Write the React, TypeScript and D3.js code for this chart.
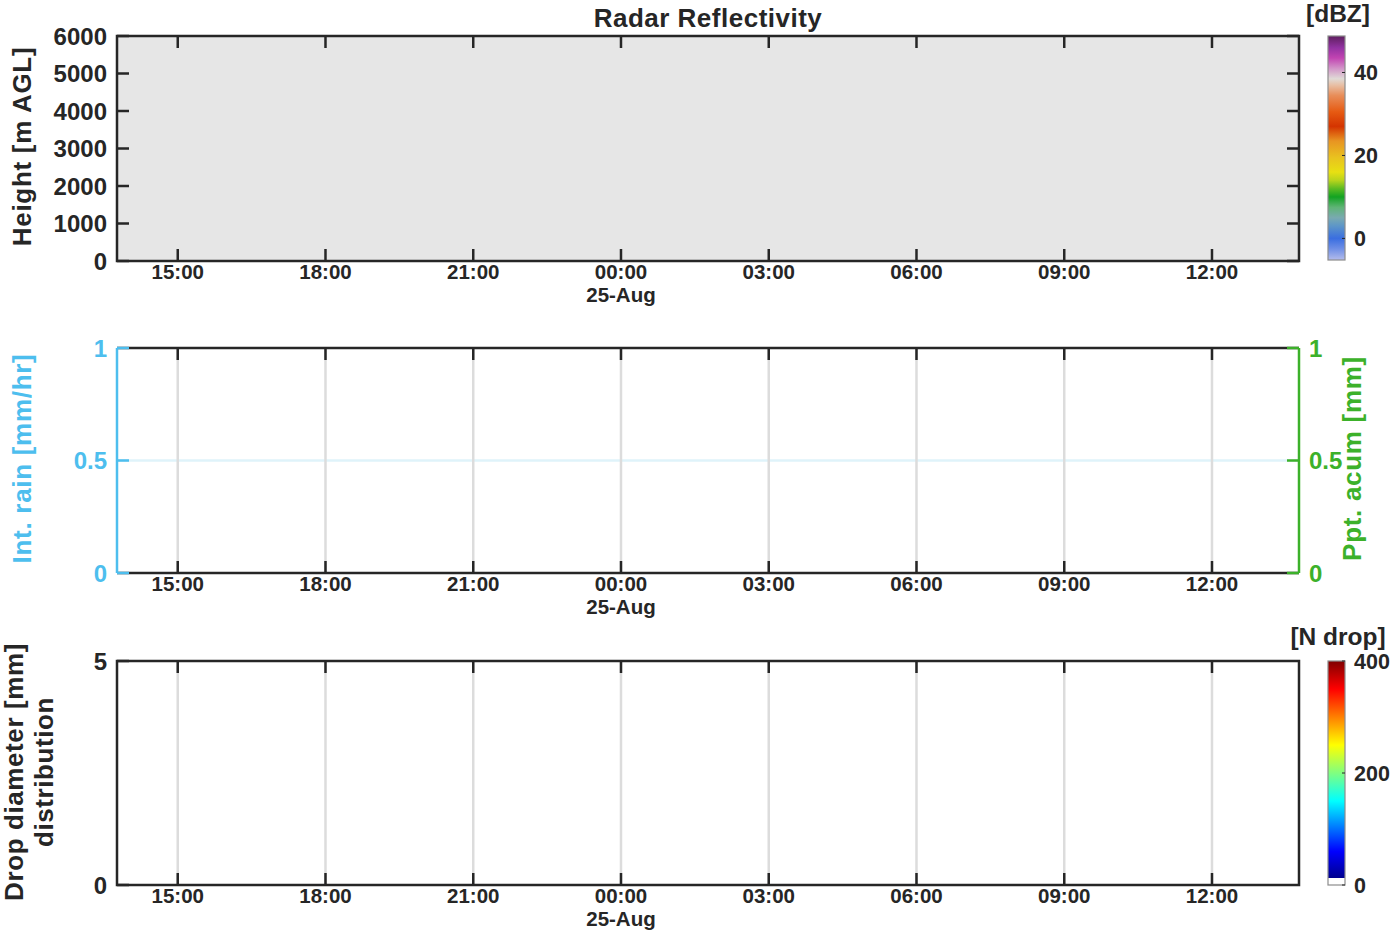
import React, { useMemo } from "react";
import * as d3 from "d3";

const WIDTH = 1393;
const HEIGHT = 932;
const X0 = 117;
const X1 = 1299;
const TEXT = "#262626";
const RAIN_BLUE = "#4dbeee";
const ACUM_GREEN = "#3cb12a";
const FONT = "'Liberation Sans', Arial, sans-serif";

// time span of the record (24 h window)
const timeStart = new Date(2024, 7, 24, 13, 46);
const timeEnd = new Date(2024, 7, 25, 13, 46);
const timeTicks = [
  new Date(2024, 7, 24, 15),
  new Date(2024, 7, 24, 18),
  new Date(2024, 7, 24, 21),
  new Date(2024, 7, 25, 0),
  new Date(2024, 7, 25, 3),
  new Date(2024, 7, 25, 6),
  new Date(2024, 7, 25, 9),
  new Date(2024, 7, 25, 12),
];
const dateLabel = "25-Aug";

const heightTicks = [0, 1000, 2000, 3000, 4000, 5000, 6000];
const rainTicks = [0, 0.5, 1];
const acumTicks = [0, 0.5, 1];
const dropTicks = [0, 5];

const dbzDomain = [-5.2, 48.8];
const dbzTicks = [0, 20, 40];
const dbzStops: [number, string][] = [
  [-5.2, "#b4bceb"],
  [-2.5, "#6f8fe6"],
  [0, "#3a6ee0"],
  [3, "#5d96c8"],
  [5, "#79aab0"],
  [7.5, "#5fb476"],
  [10, "#12a322"],
  [12, "#5cbb22"],
  [14, "#b8d41c"],
  [16, "#e8e012"],
  [19.5, "#e9c21f"],
  [23.5, "#e89422"],
  [27, "#d43400"],
  [30.5, "#e65a12"],
  [34.5, "#e88e5a"],
  [37, "#e8c0a6"],
  [38.5, "#e0dad6"],
  [41, "#d294c8"],
  [43.5, "#c244b2"],
  [46, "#9232a2"],
  [48.8, "#5e1f5e"],
];

const ndropDomain = [0, 400];
const ndropTicks = [0, 200, 400];
const ndropStops: [number, string][] = [
  [0, "#ffffff"],
  [12.4, "#ffffff"],
  [12.6, "#00008f"],
  [60, "#0000ff"],
  [150, "#00ffff"],
  [200, "#80ff80"],
  [250, "#ffff00"],
  [350, "#ff0000"],
  [400, "#800000"],
];

const fmtTime = d3.timeFormat("%H:%M");

type Panel = { top: number; bottom: number };
const P1: Panel = { top: 36, bottom: 261 };
const P2: Panel = { top: 348, bottom: 573 };
const P3: Panel = { top: 661, bottom: 885 };

const TICK = 12;

const TimeAxis = ({ x, p, grid }: { x: d3.ScaleTime<number, number>; p: Panel; grid: boolean }) => (
  <g>
    {timeTicks.map((t, i) => {
      const xx = x(t);
      return (
        <g key={i}>
          {grid && <line x1={xx} x2={xx} y1={p.top} y2={p.bottom} stroke="#dcdcdc" strokeWidth={2.5} />}
          <line x1={xx} x2={xx} y1={p.top} y2={p.top + TICK} stroke={TEXT} strokeWidth={2.5} />
          <line x1={xx} x2={xx} y1={p.bottom} y2={p.bottom - TICK} stroke={TEXT} strokeWidth={2.5} />
          <text x={xx} y={p.bottom + 18} textAnchor="middle" fontSize={20.5} fontWeight="bold" fill={TEXT}>
            {fmtTime(t)}
          </text>
          {t.getHours() === 0 && (
            <text x={xx} y={p.bottom + 41} textAnchor="middle" fontSize={20.5} fontWeight="bold" fill={TEXT}>
              {dateLabel}
            </text>
          )}
        </g>
      );
    })}
  </g>
);

const Colorbar = ({
  id, x, p, domain, stops, ticks, title, titleX, titleY,
}: {
  id: string; x: number; p: Panel; domain: number[]; stops: [number, string][];
  ticks: number[]; title: string; titleX: number; titleY: number;
}) => {
  const w = 17;
  const s = d3.scaleLinear().domain(domain).range([p.bottom, p.top]);
  const frac = (v: number) => (v - domain[0]) / (domain[1] - domain[0]);
  return (
    <g>
      <defs>
        <linearGradient id={id} x1="0" y1="1" x2="0" y2="0">
          {stops.map(([v, c], i) => (
            <stop key={i} offset={frac(v)} stopColor={c} />
          ))}
        </linearGradient>
      </defs>
      <rect x={x} y={p.top} width={w} height={p.bottom - p.top} fill={`url(#${id})`} stroke="#8c8c8c" strokeWidth={1.2} />
      {ticks.map((t) => (
        <g key={t}>
          <line x1={x + w - 3} x2={x + w} y1={s(t)} y2={s(t)} stroke={TEXT} strokeWidth={1} />
          <text x={x + 26} y={s(t)} dy="0.36em" fontSize={21.5} fontWeight="bold" fill={TEXT}>{t}</text>
        </g>
      ))}
      <text x={titleX} y={titleY} textAnchor="middle" fontSize={24.5} fontWeight="bold" fill={TEXT}>{title}</text>
    </g>
  );
};

export default function App() {
  const x = useMemo(() => d3.scaleTime().domain([timeStart, timeEnd]).range([X0, X1]), []);
  const yH = useMemo(() => d3.scaleLinear().domain([0, 6000]).range([P1.bottom, P1.top]), []);
  const yR = useMemo(() => d3.scaleLinear().domain([0, 1]).range([P2.bottom, P2.top]), []);
  const yA = useMemo(() => d3.scaleLinear().domain([0, 1]).range([P2.bottom, P2.top]), []);
  const yD = useMemo(() => d3.scaleLinear().domain([0, 5]).range([P3.bottom, P3.top]), []);

  return (
    <svg
      width={WIDTH}
      height={HEIGHT}
      style={{ position: "absolute", left: 0, top: 0, background: "#fff" }}
      fontFamily={FONT}
    >
      {/* ---- Radar reflectivity ---- */}
      <rect x={X0} y={P1.top} width={X1 - X0} height={P1.bottom - P1.top} fill="#e6e6e6" />
      <TimeAxis x={x} p={P1} grid={false} />
      {heightTicks.map((h) => (
        <g key={h}>
          <line x1={X0} x2={X0 + TICK} y1={yH(h)} y2={yH(h)} stroke={TEXT} strokeWidth={2.5} />
          <line x1={X1} x2={X1 - TICK} y1={yH(h)} y2={yH(h)} stroke={TEXT} strokeWidth={2.5} />
          <text x={107} y={yH(h)} dy="0.36em" textAnchor="end" fontSize={24} fontWeight="bold" fill={TEXT}>{h}</text>
        </g>
      ))}
      <rect x={X0} y={P1.top} width={X1 - X0} height={P1.bottom - P1.top} fill="none" stroke={TEXT} strokeWidth={2.5} />
      <text x={708} y={27} textAnchor="middle" fontSize={26} fontWeight="bold" fill={TEXT} letterSpacing={0.5}>
        Radar Reflectivity
      </text>
      <text transform={`translate(31,${(P1.top + P1.bottom) / 2 - 2}) rotate(-90)`} textAnchor="middle" fontSize={26} fontWeight="bold" fill={TEXT} letterSpacing={0.7}>
        Height [m AGL]
      </text>
      <Colorbar id="cbDbz" x={1328} p={{ top: 36, bottom: 260 }} domain={dbzDomain} stops={dbzStops} ticks={dbzTicks} title="[dBZ]" titleX={1338} titleY={22} />

      {/* ---- Rain intensity / accumulation ---- */}
      <line x1={X0} x2={X1} y1={yR(0.5)} y2={yR(0.5)} stroke="#dff3fa" strokeWidth={2.5} />
      <TimeAxis x={x} p={P2} grid={true} />
      <line x1={X0} x2={X1} y1={P2.top} y2={P2.top} stroke={TEXT} strokeWidth={2.5} />
      <line x1={X0} x2={X1} y1={P2.bottom} y2={P2.bottom} stroke={TEXT} strokeWidth={2.5} />
      <line x1={X0} x2={X0} y1={P2.top} y2={P2.bottom} stroke={RAIN_BLUE} strokeWidth={2.5} />
      <line x1={X1} x2={X1} y1={P2.top} y2={P2.bottom} stroke={ACUM_GREEN} strokeWidth={2.5} />
      {rainTicks.map((v) => (
        <g key={v}>
          <line x1={X0} x2={X0 + TICK} y1={yR(v)} y2={yR(v)} stroke={RAIN_BLUE} strokeWidth={2.5} />
          <text x={107} y={yR(v)} dy="0.36em" textAnchor="end" fontSize={24} fontWeight="bold" fill={RAIN_BLUE}>{v}</text>
        </g>
      ))}
      {acumTicks.map((v) => (
        <g key={v}>
          <line x1={X1} x2={X1 - TICK} y1={yA(v)} y2={yA(v)} stroke={ACUM_GREEN} strokeWidth={2.5} />
          <text x={1309} y={yA(v)} dy="0.36em" textAnchor="start" fontSize={24} fontWeight="bold" fill={ACUM_GREEN}>{v}</text>
        </g>
      ))}
      <text transform={`translate(31,${(P2.top + P2.bottom) / 2 - 2}) rotate(-90)`} textAnchor="middle" fontSize={26} fontWeight="bold" fill={RAIN_BLUE} letterSpacing={0.7}>
        Int. rain [mm/hr]
      </text>
      <text transform={`translate(1361,${(P2.top + P2.bottom) / 2 - 2}) rotate(-90)`} textAnchor="middle" fontSize={26} fontWeight="bold" fill={ACUM_GREEN} letterSpacing={0.7}>
        Ppt. acum [mm]
      </text>

      {/* ---- Drop size distribution ---- */}
      <TimeAxis x={x} p={P3} grid={true} />
      {dropTicks.map((v) => (
        <g key={v}>
          <line x1={X0} x2={X0 + TICK} y1={yD(v)} y2={yD(v)} stroke={TEXT} strokeWidth={2.5} />
          <text x={107} y={yD(v)} dy="0.36em" textAnchor="end" fontSize={24} fontWeight="bold" fill={TEXT}>{v}</text>
        </g>
      ))}
      <rect x={X0} y={P3.top} width={X1 - X0} height={P3.bottom - P3.top} fill="none" stroke={TEXT} strokeWidth={2.5} />
      <text transform={`translate(23,${(P3.top + P3.bottom) / 2 - 1}) rotate(-90)`} textAnchor="middle" fontSize={26} fontWeight="bold" fill={TEXT} letterSpacing={0.6}>
        Drop diameter [mm]
      </text>
      <text transform={`translate(53,${(P3.top + P3.bottom) / 2 - 1}) rotate(-90)`} textAnchor="middle" fontSize={26} fontWeight="bold" fill={TEXT} letterSpacing={0.6}>
        distribution
      </text>
      <Colorbar id="cbDrop" x={1328} p={P3} domain={ndropDomain} stops={ndropStops} ticks={ndropTicks} title="[N drop]" titleX={1338} titleY={645} />
    </svg>
  );
}
